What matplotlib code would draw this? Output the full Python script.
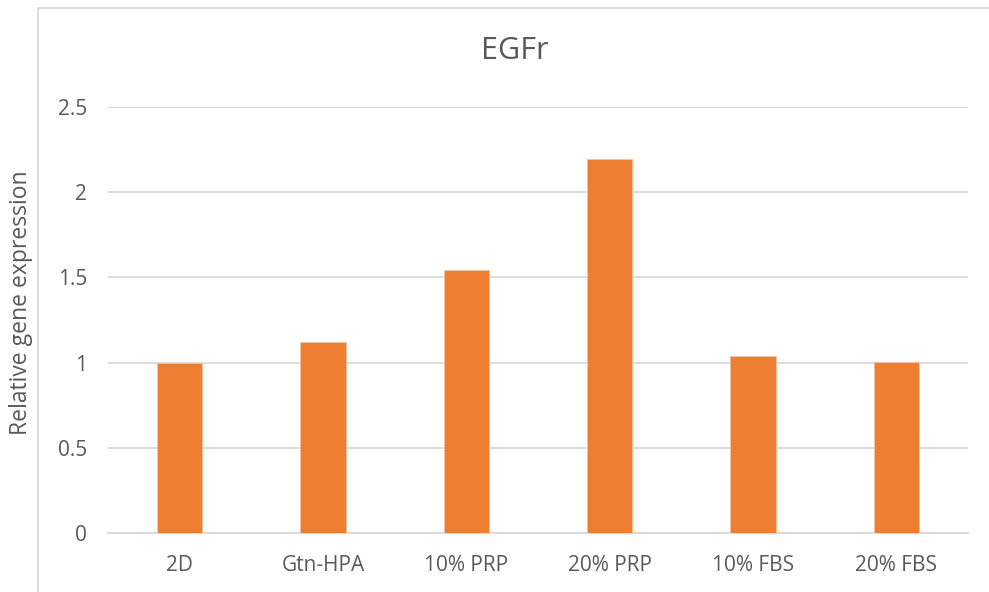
import matplotlib
matplotlib.use("Agg")
import matplotlib.pyplot as plt
from matplotlib.lines import Line2D

categories = ["2D", "Gtn-HPA", "10% PRP", "20% PRP", "10% FBS", "20% FBS"]
values = [1.0, 1.12, 1.545, 2.194, 1.04, 1.006]
yticks = [0, 0.5, 1, 1.5, 2, 2.5]
ytick_labels = ["0", "0.5", "1", "1.5", "2", "2.5"]

plt.rcParams['font.family'] = ['Open Sans', 'DejaVu Sans']
text_color = "#595959"
grid_color = "#d9d9d9"
bar_color = "#ED7D31"

fig = plt.figure(figsize=(9.89, 5.92), dpi=100)
ax = fig.add_axes([108/989, 1 - 533/592, (968 - 108)/989, (533 - 107)/592])

x = list(range(len(categories)))
ax.bar(x, values, width=0.314, color=bar_color, edgecolor="#f6c3a3", linewidth=0.6, zorder=3)
ax.set_xlim(-0.5, len(categories) - 0.5)
ax.set_ylim(0, 2.5)
ax.set_yticks(yticks)
ax.set_yticklabels(ytick_labels)
ax.set_xticks(x)
ax.set_xticklabels(categories)
ax.yaxis.grid(True, color=grid_color, linewidth=1.3, zorder=0)
ax.set_axisbelow(True)
for s in ["top", "right", "left"]:
    ax.spines[s].set_visible(False)
ax.spines["bottom"].set_color(grid_color)
ax.spines["bottom"].set_linewidth(1.3)
ax.tick_params(axis="both", length=0, labelsize=15, labelcolor=text_color)
ax.tick_params(axis="y", pad=15)
ax.tick_params(axis="x", pad=16)

fig.text(0.021, 1 - 303/592, "Relative gene expression", rotation=90, ha="center", va="center",
         fontsize=16.5, color=text_color)
fig.text(515/989, 1 - 51/592, "EGFr", ha="center", va="center", fontsize=22, color=text_color)

# chart area border
fig.add_artist(Line2D([38/989, 38/989], [0, 1 - 8/592], transform=fig.transFigure, color=grid_color, linewidth=1.3))
fig.add_artist(Line2D([38/989, 1], [1 - 8/592, 1 - 8/592], transform=fig.transFigure, color=grid_color, linewidth=1.3))

fig.savefig("out.png", dpi=100, facecolor="white")
